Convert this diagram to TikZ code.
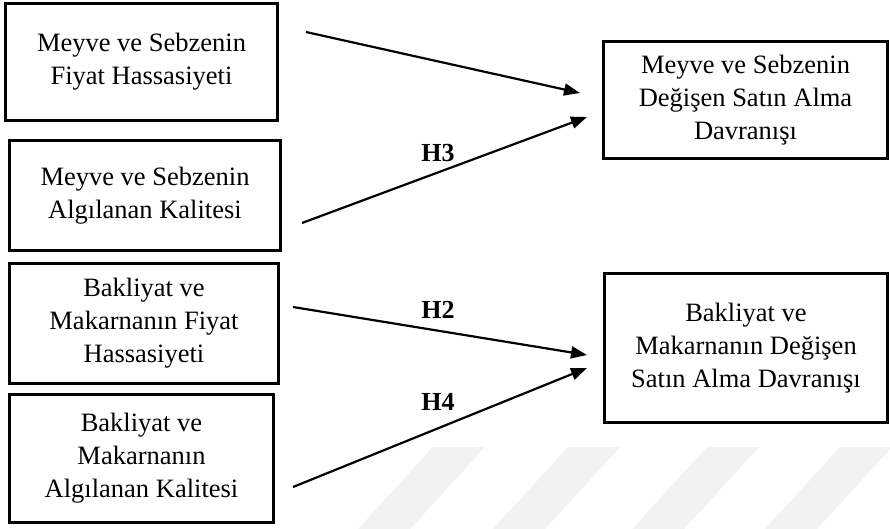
\documentclass[tikz,border=0pt]{standalone}
\usepackage{fontspec}
\setmainfont{Liberation Serif}
\usetikzlibrary{arrows.meta}

\begin{document}
\begin{tikzpicture}[x=1pt,y=-1pt,
  varbox/.style={draw=black,line width=2.2pt,rectangle,inner sep=0pt,
    align=center,font=\fontsize{26.5}{33}\selectfont},
  link/.style={line width=2.2pt,-{Triangle[length=16pt,width=12pt]}},
  hyp/.style={font=\fontsize{26}{30}\selectfont\bfseries,inner sep=0pt},
  stripe/.style={fill=black!5,draw=none}]

\useasboundingbox (0,0) rectangle (890,528);

% faint diagonal stripes along the bottom edge
\begin{scope}
  \clip (0,0) rectangle (890,528);
  \foreach \sx in {433,568,707,840}{
    \fill[stripe] (\sx,447) -- (\sx+52,447) -- (\sx+52-85,540) -- (\sx-85,540) -- cycle;
  }
\end{scope}

% independent variables
\node[varbox,minimum width=272pt,minimum height=117pt] (fmsf) at (141.5,62)
  {Meyve ve Sebzenin\\Fiyat Hassasiyeti};
\node[varbox,minimum width=271pt,minimum height=110pt] (fmsk) at (145,195.5)
  {Meyve ve Sebzenin\\Algılanan Kalitesi};
\node[varbox,minimum width=269pt,minimum height=120pt] (bmf) at (144,323.5)
  {Bakliyat ve\\Makarnanın Fiyat\\Hassasiyeti};
\node[varbox,minimum width=264pt,minimum height=128pt] (bmk) at (141.5,458.5)
  {Bakliyat ve\\Makarnanın\\Algılanan Kalitesi};

% dependent variables
\node[varbox,minimum width=284pt,minimum height=117pt] (msd) at (745.5,100)
  {Meyve ve Sebzenin\\Değişen Satın Alma\\Davranışı};
\node[varbox,minimum width=283pt,minimum height=149pt] (bmd) at (746,348)
  {Bakliyat ve\\Makarnanın Değişen\\Satın Alma Davranışı};

% arrow end points
\coordinate (s1) at (306,32);   \coordinate (t1) at (580,93);
\coordinate (s2) at (302,223);  \coordinate (t2) at (587,117);
\coordinate (s3) at (293,307);  \coordinate (t3) at (587,355);
\coordinate (s4) at (293,487);  \coordinate (t4) at (587,368);

\draw[link] (s1) -- (t1);
\draw[link] (s2) -- (t2);
\draw[link] (s3) -- (t3);
\draw[link] (s4) -- (t4);

% hypothesis labels
\node[hyp] (h3) at (438,153) {H3};
\node[hyp] (h2) at (438,310) {H2};
\node[hyp] (h4) at (438,402) {H4};
\end{tikzpicture}
\end{document}
